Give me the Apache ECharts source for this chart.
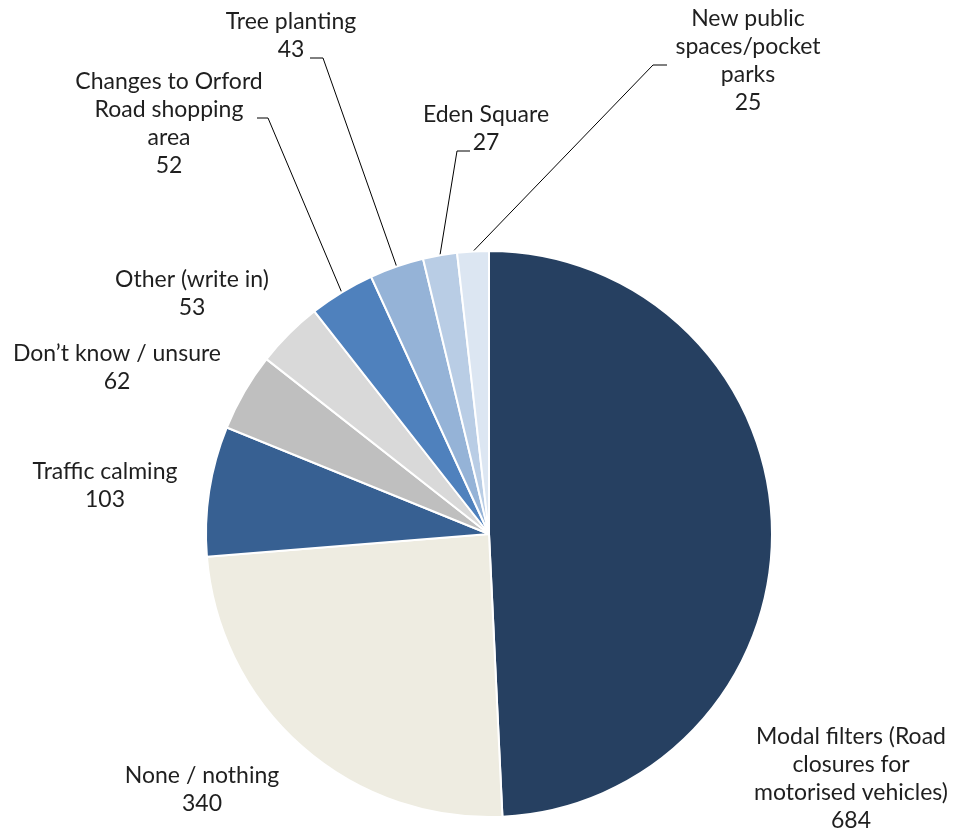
<!DOCTYPE html>
<html>
<head>
<meta charset="utf-8">
<script src="https://cdn.jsdelivr.net/npm/echarts@6/dist/echarts.min.js"></script>
<style>
  html, body { margin: 0; padding: 0; background: #ffffff; }
  #chart { width: 958px; height: 836px; }
</style>
</head>
<body>
<div id="chart"></div>
<script>
// ---- data ----
const categories = [
  'Modal filters (Road closures for motorised vehicles)',
  'None / nothing',
  'Traffic calming',
  "Don’t know / unsure",
  'Other (write in)',
  'Changes to Orford Road shopping area',
  'Tree planting',
  'Eden Square',
  'New public spaces/pocket parks'
];
const values = [684, 340, 103, 62, 53, 52, 43, 27, 25];
const labelTexts = [
  'Modal filters (Road\nclosures for\nmotorised vehicles)',
  'None / nothing',
  'Traffic calming',
  "Don’t know / unsure",
  'Other (write in)',
  'Changes to Orford\nRoad shopping\narea',
  'Tree planting',
  'Eden Square',
  'New public\nspaces/pocket\nparks'
];
const colors = ['#264061', '#EEECE1', '#376092', '#BFBFBF', '#D9D9D9', '#4F81BD', '#95B3D7', '#B9CDE5', '#DCE6F2'];

// ---- label layout (text block centers, leader bend/end) ----
const labelPos = [
  [851, 779], [202, 790], [105, 486], [117, 368], [192, 294],
  [169, 124], [291, 36], [486, 129], [748, 61]
];
const leaders = {
  5: [[268, 118], [257, 118]],
  6: [[323, 58], [310, 58]],
  7: [[457, 151], [470, 151]],
  8: [[653, 65], [667, 65]]
};

const chart = echarts.init(document.getElementById('chart'), null, { renderer: 'canvas' });

const data = categories.map((name, i) => ({
  name: name,
  value: values[i],
  itemStyle: { color: colors[i] },
  labelLine: { show: leaders[i] != null }
}));

chart.setOption({
  animation: false,
  series: [{
    type: 'pie',
    center: [489, 534],
    radius: [0, 283],
    startAngle: 90,
    clockwise: true,
    avoidLabelOverlap: false,
    data: data,
    itemStyle: { borderColor: '#ffffff', borderWidth: 2 },
    label: {
      show: true,
      position: 'outside',
      alignTo: 'none',
      formatter: p => labelTexts[p.dataIndex] + '\n' + p.value,
      fontFamily: 'Lato, "Open Sans", sans-serif',
      fontSize: 23,
      lineHeight: 28,
      color: '#1f1f1f',
      align: 'center'
    },
    labelLine: {
      show: true,
      length: 10,
      length2: 10,
      lineStyle: { color: '#000000', width: 1 }
    },
    labelLayout: function (params) {
      const i = params.dataIndex;
      const res = {
        x: labelPos[i][0],
        y: labelPos[i][1],
        align: 'center',
        verticalAlign: 'middle'
      };
      if (leaders[i] && params.labelLinePoints) {
        const start = params.labelLinePoints[0];
        res.labelLinePoints = [start, leaders[i][0], leaders[i][1]];
      }
      return res;
    },
    emphasis: { disabled: true }
  }]
});
</script>
</body>
</html>
